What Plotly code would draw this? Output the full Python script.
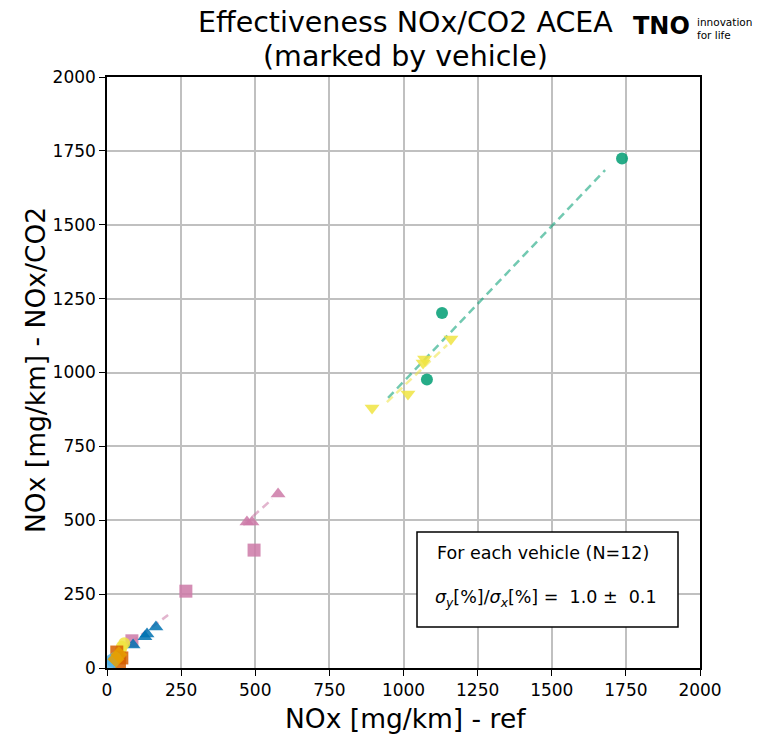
import plotly.graph_objects as go

# ---- data: each vehicle's measured points (x = NOx ref, y = NOx via NOx/CO2)
veh_names = ["V1", "V2", "V3", "V4", "V5", "V6", "V7", "V8", "V9"]
veh_colors = ["#009E73", "#F0E442", "#CC79A7", "#CC79A7", "#0072B2",
              "#F0E442", "#D55E00", "#56B4E9", "#E69F00"]
veh_symbols = ["circle", "triangle-down", "triangle-up", "square", "triangle-up",
               "circle", "square", "circle", "diamond"]
veh_x = [
    [1737, 1130, 1079],
    [894, 1015, 1066, 1071, 1160],
    [472, 489, 577],
    [84, 266, 496],
    [88, 128, 135, 165],
    [50, 58, 46],
    [33, 50, 42],
    [12, 20, 28, 16],
    [40, 30],
]
veh_y = [
    [1724, 1201, 976],
    [880, 927, 1032, 1046, 1113],
    [494, 494, 589],
    [92, 260, 399],
    [78, 106, 115, 139],
    [72, 84, 60],
    [54, 34, 22],
    [12, 22, 35, 28],
    [45, 30],
]
# fitted dashed lines (start/end)
fit_colors = ["#009E73", "#F0E442", "#CC79A7", "#CC79A7"]
fit_x = [[948, 1680], [944, 1147], [459, 558], [10, 206]]
fit_y = [[914, 1685], [900, 1093], [484, 572], [34, 179]]

ticks = [0, 250, 500, 750, 1000, 1250, 1500, 1750, 2000]

fig = go.Figure()

for fx, fy, fc in zip(fit_x, fit_y, fit_colors):
    fig.add_trace(go.Scatter(x=fx, y=fy, mode="lines",
                             line=dict(color=fc, width=2.5, dash="8px,5px"),
                             opacity=0.55, showlegend=False, hoverinfo="skip"))

for name, c, s, xs, ys in zip(veh_names, veh_colors, veh_symbols, veh_x, veh_y):
    size = 12 if s == "circle" else 13
    fig.add_trace(go.Scatter(x=xs, y=ys, mode="markers", name=name,
                             marker=dict(color=c, symbol=s, size=size,
                                         opacity=0.85, line=dict(width=0)),
                             showlegend=False))

font = "DejaVu Sans, Verdana, sans-serif"
axis_common = dict(range=[0, 2000], tickvals=ticks, ticks="outside", ticklen=6,
                   tickwidth=1.3, tickcolor="black", showline=True, mirror=True,
                   linecolor="black", linewidth=1.5, showgrid=True,
                   gridcolor="#c0c0c0", gridwidth=1.5, zeroline=False,
                   tickfont=dict(family=font, size=17, color="black"))

# the page body adds an 8px offset, so margins are shifted accordingly
fig.update_layout(
    width=764, height=735,
    margin=dict(l=99, r=72, t=69, b=75),
    paper_bgcolor="white", plot_bgcolor="white",
    xaxis=dict(**axis_common),
    yaxis=dict(**axis_common),
    font=dict(family=font, color="black"),
)

def px(x):
    return (x - 107) / 593

def py(y):
    return (668 - y) / 591

# Titles
fig.add_annotation(x=px(405), y=py(23), xref="paper", yref="paper", showarrow=False,
                   text="Effectiveness NOx/CO2 ACEA", font=dict(size=28.5, family=font),
                   xanchor="center", yanchor="middle")
fig.add_annotation(x=px(405), y=py(56), xref="paper", yref="paper", showarrow=False,
                   text="(marked by vehicle)", font=dict(size=28.5, family=font),
                   xanchor="center", yanchor="middle")
fig.add_annotation(x=px(405), y=py(718), xref="paper", yref="paper", showarrow=False,
                   text="NOx [mg/km] - ref", font=dict(size=26.5, family=font),
                   xanchor="center", yanchor="middle")
fig.add_annotation(x=px(35), y=py(370), xref="paper", yref="paper",
                   showarrow=False, textangle=-90,
                   text="NOx [mg/km] - NOx/CO2", font=dict(size=26.5, family=font),
                   xanchor="center", yanchor="middle")

# Text box
fig.add_shape(type="rect", xref="paper", yref="paper",
              x0=px(417), x1=px(678), y0=py(627), y1=py(532),
              line=dict(color="black", width=1.5), fillcolor="white", layer="above")
fig.add_annotation(x=px(435), y=py(553), xref="paper", yref="paper",
                   showarrow=False, xanchor="left", yanchor="middle",
                   text="For each vehicle (N=12)", font=dict(size=17.5, family=font))
fig.add_annotation(x=px(433), y=py(598), xref="paper", yref="paper",
                   showarrow=False, xanchor="left", yanchor="middle",
                   text="<i>σ<sub>y</sub></i>[%]/<i>σ<sub>x</sub></i>[%] =  1.0 ±  0.1",
                   font=dict(size=17.5, family=font))

# TNO logo as text
fig.add_annotation(x=px(661), y=py(26), xref="paper", yref="paper",
                   showarrow=False, xanchor="center", yanchor="middle",
                   text="<b>TNO</b>", font=dict(size=24, family="DejaVu Sans", color="black"))
fig.add_annotation(x=px(695), y=py(22), xref="paper", yref="paper",
                   showarrow=False, xanchor="left", yanchor="middle",
                   text="innovation", font=dict(size=10.5, family="DejaVu Sans", color="black"))
fig.add_annotation(x=px(695), y=py(35), xref="paper", yref="paper",
                   showarrow=False, xanchor="left", yanchor="middle",
                   text="for life", font=dict(size=10.5, family="DejaVu Sans", color="black"))

fig.write_html("out.html")
